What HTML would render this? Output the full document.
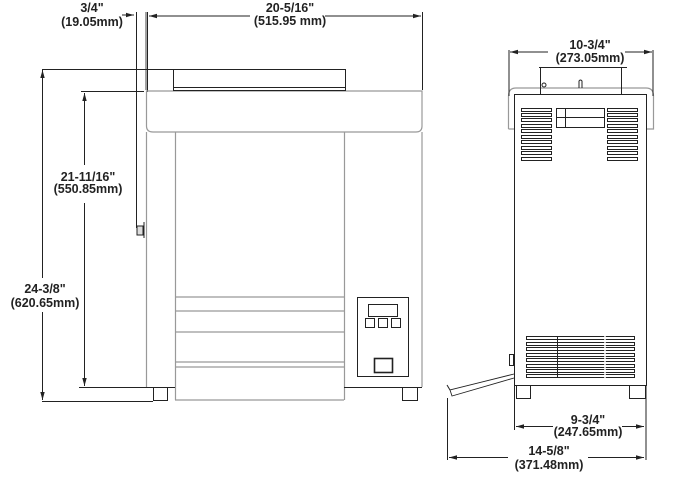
<!DOCTYPE html>
<html><head><meta charset="utf-8"><style>
html,body{margin:0;padding:0;background:#fff;}
svg{display:block}
text{font-family:"Liberation Sans",Arial,sans-serif;font-weight:bold;font-size:12.5px;fill:#222;text-anchor:middle}
</style></head><body>
<svg width="674" height="479" viewBox="0 0 674 479" xmlns="http://www.w3.org/2000/svg">
<defs>
<marker id="a" markerWidth="8" markerHeight="6" refX="8" refY="3" orient="auto" markerUnits="userSpaceOnUse"><path d="M0,0.8 L8,3 L0,5.2 Z" fill="#222"/></marker>
</defs>
<g fill="none" stroke="#222" stroke-width="1">
<line x1="147.5" y1="12" x2="147.5" y2="92"/>
<line x1="422.5" y1="12" x2="422.5" y2="90"/>
<line x1="250" y1="16" x2="149" y2="16" marker-end="url(#a)"/>
<line x1="325" y1="16" x2="421" y2="16" marker-end="url(#a)"/>
<line x1="122" y1="15" x2="134" y2="15" marker-end="url(#a)"/>
<line x1="136.5" y1="12" x2="136.5" y2="228"/>
<line x1="146" y1="12" x2="146" y2="90" stroke="#444"/>
<line x1="42" y1="69.5" x2="203" y2="69.5"/>
<line x1="42.5" y1="278" x2="42.5" y2="70" marker-end="url(#a)"/>
<line x1="42.5" y1="312" x2="42.5" y2="400" marker-end="url(#a)"/>
<line x1="42" y1="401.5" x2="153" y2="401.5"/>
<line x1="81" y1="91.5" x2="144" y2="91.5"/>
<line x1="84.5" y1="165" x2="84.5" y2="93" marker-end="url(#a)"/>
<line x1="84.5" y1="203" x2="84.5" y2="386" marker-end="url(#a)"/>
<line x1="79" y1="387.5" x2="146" y2="387.5"/>
</g>
<text x="92" y="12">3/4"</text>
<text x="92" y="26">(19.05mm)</text>
<text x="290" y="12">20-5/16"</text>
<text x="290" y="25">(515.95 mm)</text>
<text x="88" y="181">21-11/16"</text>
<text x="88" y="193">(550.85mm)</text>
<text x="45" y="293">24-3/8"</text>
<text x="45" y="307">(620.65mm)</text>

<g fill="none" stroke="#999" stroke-width="1.2">
<path d="M146.5,91 L146.5,126 Q146.5,132 153,132 L416,132 Q422,132 422,126 L422,91 Z"/>
<line x1="146.5" y1="132" x2="146.5" y2="387"/>
<line x1="422" y1="132" x2="422" y2="387"/>
<line x1="175.5" y1="132" x2="175.5" y2="400"/>
<line x1="344.5" y1="132" x2="344.5" y2="400"/>
<line x1="175" y1="297" x2="344" y2="297"/>
<line x1="175" y1="311" x2="344" y2="311"/>
<line x1="175" y1="332" x2="344" y2="332"/>
<line x1="175" y1="362" x2="344" y2="362"/>
<line x1="175" y1="367" x2="344" y2="367"/>
<line x1="175" y1="400" x2="344" y2="400"/>
</g>
<g fill="none" stroke="#222" stroke-width="1">
<rect x="173.5" y="69.5" width="172" height="21"/>
<line x1="173" y1="87.5" x2="345" y2="87.5"/>
<line x1="146" y1="387.5" x2="175" y2="387.5"/>
<line x1="344" y1="387.5" x2="422" y2="387.5"/>
<rect x="153.5" y="387.5" width="14" height="13"/>
<rect x="402.5" y="387.5" width="15" height="13"/>
<rect x="357.5" y="297.5" width="51" height="79"/>
<rect x="368.5" y="304.5" width="29" height="12"/>
<rect x="365.5" y="318.5" width="9" height="9"/>
<rect x="378.5" y="318.5" width="9" height="9"/>
<rect x="391.5" y="318.5" width="9" height="9"/>
<rect x="374.5" y="358.5" width="18" height="14" stroke-width="1.6"/>
<rect x="137" y="226" width="6" height="9" fill="#ddd"/>
<line x1="144" y1="222" x2="144" y2="238"/>
</g>

<g fill="none" stroke="#999" stroke-width="1.2">
<path d="M508.5,129 L508.5,96 Q508.5,88 516,88 L646,88 Q653.5,88 653.5,96 L653.5,129 L646,129 M508.5,129 L514,129"/>
</g>
<g fill="none" stroke="#222" stroke-width="1">
<line x1="509" y1="50" x2="509" y2="96"/>
<line x1="653" y1="50" x2="653" y2="96"/>
<line x1="548" y1="52" x2="510" y2="52" marker-end="url(#a)"/>
<line x1="625" y1="52" x2="652" y2="52" marker-end="url(#a)"/>
<line x1="539" y1="67.5" x2="627" y2="67.5"/>
<line x1="540.5" y1="67" x2="540.5" y2="95"/>
<line x1="621.5" y1="67" x2="621.5" y2="94"/>
<rect x="514.5" y="94.5" width="132" height="291"/>
<circle cx="544" cy="85" r="2"/>
<path d="M579,88 L579,81 Q580.5,79 582,81 L582,88"/>
<rect x="556.5" y="108.5" width="48" height="19"/>
<line x1="565.5" y1="108" x2="565.5" y2="127"/>
<line x1="556" y1="117.5" x2="604" y2="117.5"/>
<g id="lv">
<rect x="521.5" y="108.5" width="30" height="3"/>
<rect x="521.5" y="113.5" width="30" height="3"/>
<rect x="521.5" y="118.5" width="30" height="3"/>
<rect x="521.5" y="124.5" width="30" height="3"/>
<rect x="521.5" y="129.5" width="30" height="3"/>
<rect x="521.5" y="135.5" width="30" height="3"/>
<rect x="521.5" y="140.5" width="30" height="3"/>
<rect x="521.5" y="146.5" width="30" height="3"/>
<rect x="521.5" y="151.5" width="30" height="3"/>
<rect x="521.5" y="157.5" width="30" height="3"/>
</g>
<use href="#lv" x="86"/>
<g id="bl">
<rect x="526.5" y="336.5" width="108" height="3"/>
<rect x="526.5" y="342.5" width="108" height="3"/>
<rect x="526.5" y="347.5" width="108" height="3"/>
<rect x="526.5" y="353.5" width="108" height="3"/>
<rect x="526.5" y="358.5" width="108" height="3"/>
<rect x="526.5" y="364.5" width="108" height="3"/>
<rect x="526.5" y="369.5" width="108" height="3"/>
<rect x="526.5" y="374.5" width="108" height="3"/>
</g>
<line x1="557.5" y1="336" x2="557.5" y2="378"/>
<line x1="605" y1="336" x2="605" y2="378" stroke="#fff" stroke-width="1.5"/>
<line x1="514" y1="385.5" x2="646" y2="385.5"/>
<rect x="516.5" y="385.5" width="14" height="13"/>
<rect x="629.5" y="385.5" width="16" height="13"/>
<rect x="509.5" y="354.5" width="4" height="11"/>
<path d="M514,374 L450,390 L452,396 L514,378" stroke-width="0.9"/>
<path d="M450,390 L447,385"/>
<line x1="514.5" y1="385" x2="514.5" y2="430"/>
<line x1="646" y1="385" x2="646" y2="460"/>
<line x1="447.5" y1="398" x2="447.5" y2="460"/>
<line x1="553" y1="426.5" x2="516" y2="426.5" marker-end="url(#a)"/>
<line x1="622" y1="426.5" x2="644" y2="426.5" marker-end="url(#a)"/>
<line x1="508" y1="457.5" x2="449" y2="457.5" marker-end="url(#a)"/>
<line x1="588" y1="457.5" x2="644" y2="457.5" marker-end="url(#a)"/>
</g>
<text x="590" y="49">10-3/4"</text>
<text x="590" y="62">(273.05mm)</text>
<text x="588" y="424">9-3/4"</text>
<text x="588" y="436">(247.65mm)</text>
<text x="549" y="455">14-5/8"</text>
<text x="549" y="469">(371.48mm)</text>
</svg>
</body></html>
